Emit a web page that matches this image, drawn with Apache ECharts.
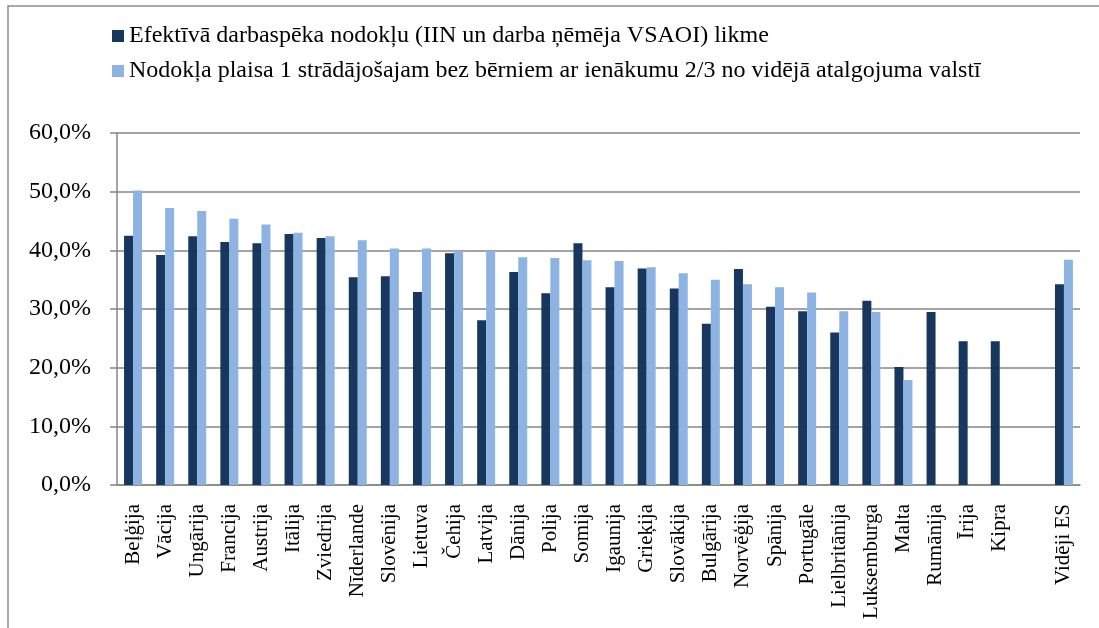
<!DOCTYPE html>
<html>
<head>
<meta charset="utf-8">
<script src="https://cdn.jsdelivr.net/npm/echarts@6/dist/echarts.min.js"></script>
<style>
html,body{margin:0;padding:0;background:#fff;}
#chart{width:1099px;height:628px;}
</style>
</head>
<body>
<div id="chart"></div>
<script>
const categories = ['Beļģija','Vācija','Ungārija','Francija','Austrija','Itālija','Zviedrija','Nīderlande','Slovēnija','Lietuva','Čehija','Latvija','Dānija','Polija','Somija','Igaunija','Grieķija','Slovākija','Bulgārija','Norvēģija','Spānija','Portugāle','Lielbritānija','Luksemburga','Malta','Rumānija','Īrija','Kipra','','Vidēji ES'];
const seriesNames = ['Efektīvā darbaspēka nodokļu (IIN un darba ņēmēja VSAOI) likme','Nodokļa plaisa 1 strādājošajam bez bērniem ar ienākumu 2/3 no vidējā atalgojuma valstī'];
const effectiveRate = [42.5,39.2,42.4,41.4,41.2,42.8,42.1,35.4,35.6,32.9,39.5,28.1,36.3,32.7,41.2,33.7,36.9,33.5,27.5,36.8,30.4,29.6,26.0,31.4,20.1,29.5,24.5,24.5,null,34.2];
const taxWedge = [50.2,47.2,46.7,45.4,44.4,43.0,42.4,41.7,40.3,40.3,39.9,39.9,38.8,38.7,38.3,38.2,37.1,36.1,35.0,34.2,33.7,32.8,29.6,29.5,17.9,null,null,null,null,38.4];
const yTicks = {min:0, max:60, interval:10};

const chart = echarts.init(document.getElementById('chart'));
const font = '"Liberation Serif","Times New Roman",serif';
chart.setOption({
  animation:false,
  textStyle:{fontFamily:font},
  graphic:[{type:'polyline',silent:true,shape:{points:[[8,628],[8,6],[1099,6]]},style:{stroke:'#8c8c8c',lineWidth:1.5,fill:null}}],
  legend:{
    orient:'vertical', left:107, top:19, itemWidth:12, itemHeight:12, itemGap:11,
    icon:'rect',
    textStyle:{fontFamily:font,fontSize:24,color:'#000'},
    data:seriesNames
  },
  grid:{left:117,right:19,top:133,bottom:143,containLabel:false},
  xAxis:{
    type:'category', data:categories,
    axisLine:{lineStyle:{color:'#868686',width:1.5}},
    axisTick:{length:6,lineStyle:{color:'#868686',width:1.5}},
    axisLabel:{rotate:90,interval:0,margin:19,fontFamily:font,fontSize:21,color:'#000'}
  },
  yAxis:{
    type:'value', min:yTicks.min, max:yTicks.max, interval:yTicks.interval,
    axisLine:{show:true,lineStyle:{color:'#868686',width:1.5}},
    axisTick:{show:true,inside:false,length:7,lineStyle:{color:'#868686',width:1.5}},
    splitLine:{lineStyle:{color:'#868686',width:1.5}},
    axisLabel:{margin:26,fontFamily:font,fontSize:24,color:'#000',formatter:v=>v.toFixed(1).replace('.',',')+'%'}
  },
  series:[
    {name:seriesNames[0],type:'bar',data:effectiveRate,barGap:'0%',barCategoryGap:'44%',itemStyle:{color:'#17375E'}},
    {name:seriesNames[1],type:'bar',data:taxWedge,itemStyle:{color:'#8DB3E2'}}
  ]
});
</script>
</body>
</html>
